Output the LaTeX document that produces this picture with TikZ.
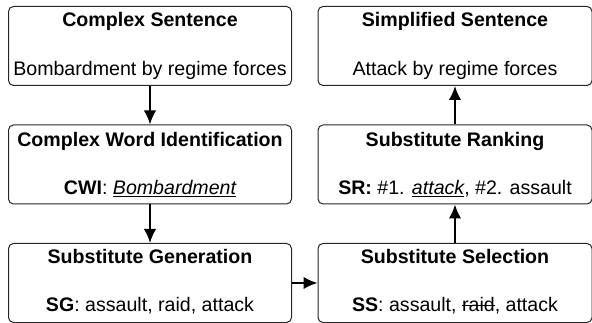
\documentclass[tikz,border=0pt]{standalone}
\usepackage{fontspec}
\setmainfont{Liberation Sans}
\usetikzlibrary{arrows.meta,calc}
\newcommand\myul[1]{\setbox0\hbox{#1}\rlap{\rule[-2.6pt]{\wd0}{0.9pt}}\box0}
\newcommand\mystrike[1]{\setbox0\hbox{#1}\rlap{\rule[5.7pt]{\wd0}{0.9pt}}\box0}
\tikzset{
  stagebox/.style={draw=black!85, line width=1pt, rounded corners=5pt, inner sep=0pt},
  leftbox/.style={stagebox, minimum width=283pt, minimum height=79pt},
  rightbox/.style={stagebox, minimum width=274pt, minimum height=79pt},
  txt/.style={anchor=base, inner sep=0pt, font=\fontsize{19.6}{22}\selectfont},
  flow/.style={line width=2pt, -{Latex[length=14pt,width=12.5pt]}}
}
\begin{document}
\begin{tikzpicture}[x=1pt,y=-1pt]
\useasboundingbox (0,0) rectangle (592,323);
% left column
\node[leftbox] (cs) at (150,46) {};
\node[leftbox] (cwi) at (150,164.5) {};
\node[leftbox] (sg) at (150,283) {};
% right column
\node[rightbox] (ss) at (455,283) {};
\node[rightbox] (sr) at (455,164.5) {};
\node[rightbox] (simp) at (455,46) {};
% texts
\node[txt] (cs-t) at ($(cs.north)+(0,21)$) {\bfseries Complex Sentence};
\node[txt] (cs-b) at ($(cs.south)+(0,-10)$) {Bombardment by regime forces};
\node[txt] (cwi-t) at ($(cwi.north)+(0,22)$) {\bfseries Complex Word Identification};
\node[txt] (cwi-b) at ($(cwi.south)+(0,-10)$) {\textbf{CWI}: \myul{\itshape Bombardment}};
\node[txt] (sg-t) at ($(sg.north)+(0,21)$) {\bfseries Substitute Generation};
\node[txt] (sg-b) at ($(sg.south)+(0,-11)$) {\textbf{SG}: assault, raid, attack};
\node[txt] (ss-t) at ($(ss.north)+(0,21)$) {\bfseries Substitute Selection};
\node[txt] (ss-b) at ($(ss.south)+(0,-11)$) {\textbf{SS}: assault, \mystrike{raid}, attack};
\node[txt] (sr-t) at ($(sr.north)+(0,22)$) {\bfseries Substitute Ranking};
\node[txt] (sr-b) at ($(sr.south)+(0,-10)$) {\textbf{SR:} \#1. \myul{\itshape attack}, \#2. assault};
\node[txt] (simp-t) at ($(simp.north)+(0,21)$) {\bfseries Simplified Sentence};
\node[txt] (simp-b) at ($(simp.south)+(0,-10)$) {Attack by regime forces};
% connectors
\draw[flow] (cs.south) -- (cwi.north);
\draw[flow] (cwi.south) -- (sg.north);
\draw[flow] (sg.east) -- (ss.west);
\draw[flow] (ss.north) -- (sr.south);
\draw[flow] (sr.north) -- (simp.south);
\end{tikzpicture}
\end{document}
